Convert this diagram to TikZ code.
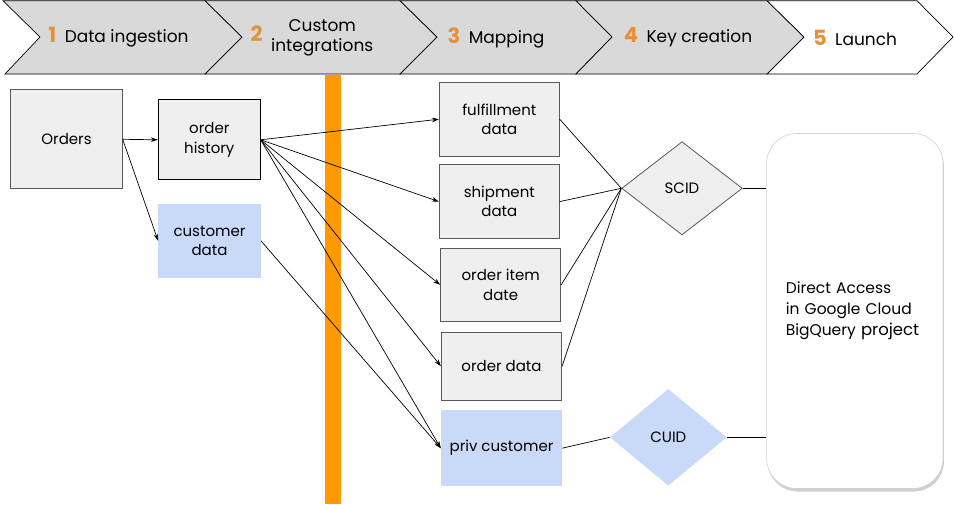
\documentclass[tikz,border=0pt]{standalone}
\usepackage{fontspec}
\setmainfont{Poppins}
\usetikzlibrary{shapes.geometric,arrows.meta,shadows}
\definecolor{boxgray}{HTML}{EFEFEF}
\definecolor{boxline}{HTML}{595959}
\definecolor{boxblue}{HTML}{C9DAF8}
\definecolor{chevgray}{HTML}{D9D9D9}
\definecolor{numorange}{HTML}{E69138}
\definecolor{barorange}{HTML}{FF9900}
\tikzset{
  chev/.style={draw=black, line width=0.7pt, line join=miter},
  chevlabel/.style={font=\fontsize{17}{20}\selectfont, inner sep=0pt, align=center},
  graybox/.style={rectangle, draw=boxline, fill=boxgray, line width=0.8pt, inner sep=0pt,
    align=center, font=\fontsize{15}{19.5}\selectfont},
  bluebox/.style={rectangle, fill=boxblue, inner sep=0pt, align=center,
    font=\fontsize{15}{19.5}\selectfont},
  keyshape/.style={diamond, inner sep=0pt, font=\fontsize{15}{19}\selectfont},
  conn/.style={draw=black, line width=0.7pt},
  arr/.style={conn, -{Stealth[length=7pt,width=4.5pt]}},
}
\newcommand{\num}[1]{{\fontsize{21}{22}\selectfont\color{numorange}\bfseries #1}\hspace{0.5em}}
\begin{document}
\begin{tikzpicture}[x=1pt,y=-1pt]
\useasboundingbox (0,0) rectangle (954,504);
% header chevrons
\filldraw[chev, fill=chevgray] (3,0.7) -- (205,0.7) -- (242,37) -- (205,74) -- (5,74) -- (40,37) -- cycle;
\filldraw[chev, fill=chevgray] (205,0.7) -- (400,0.7) -- (437,37) -- (400,74) -- (205,74) -- (242,37) -- cycle;
\filldraw[chev, fill=chevgray] (400,0.7) -- (576,0.7) -- (612,37) -- (576,74) -- (400,74) -- (437,37) -- cycle;
\filldraw[chev, fill=chevgray] (576,0.7) -- (767,0.7) -- (804,37) -- (767,74) -- (576,74) -- (612,37) -- cycle;
\filldraw[chev, fill=white] (767,0.7) -- (917,0.7) -- (953,37) -- (917,74) -- (767,74) -- (804,37) -- cycle;
\node[chevlabel] (h1) at (118.5,37.5) {\num{1}Data ingestion};
\node[chevlabel] (h2) at (312,37.5) {\num{2}\begin{tabular}{@{}c@{}}Custom\\[-0.5pt]integrations\end{tabular}};
\node[chevlabel] (h3) at (496,37.5) {\num{3}Mapping};
\node[chevlabel] (h4) at (688,37.5) {\num{4}Key creation};
\node[chevlabel] (h5) at (855,37.5) {\num{5}Launch};
% orange bar
\fill[barorange] (325,75) rectangle (341,504);
% boxes
\node[graybox, minimum width=111.5pt, minimum height=99pt] (orders) at (66.5,139.3) {Orders};
\node[graybox, draw=black, minimum width=102pt, minimum height=80pt] (ordhist) at (209.3,139.8) {order\\history};
\node[bluebox, minimum width=102.4pt, minimum height=74pt] (custdata) at (209.5,240.8) {customer\\data};
\node[graybox, minimum width=120pt, minimum height=74.3pt] (fulfil) at (499.3,119.2) {fulfillment\\data};
\node[graybox, minimum width=120pt, minimum height=73.7pt] (ship) at (499.3,201.6) {shipment\\data};
\node[graybox, minimum width=120pt, minimum height=73.6pt] (item) at (500.7,284.9) {order item\\date};
\node[graybox, minimum width=120.4pt, minimum height=68.3pt] (orddata) at (501.5,366.2) {order data};
\node[bluebox, minimum width=121pt, minimum height=75.7pt] (priv) at (501.5,448.2) {priv customer};
\node[keyshape, draw=boxline, fill=boxgray, line width=0.8pt, minimum width=120.6pt, minimum height=93.3pt] (scid) at (682,188.3) {SCID};
\node[keyshape, fill=boxblue, minimum width=116.7pt, minimum height=96.7pt] (cuid) at (668.3,437.3) {CUID};
\node[rectangle, rounded corners=30pt, draw=gray!35, fill=white, line width=0.6pt,
  drop shadow={shadow xshift=1pt, shadow yshift=-3pt, fill=gray!75},
  minimum width=176.3pt, minimum height=355pt, inner sep=0pt,
  text width=138pt, align=left, font=\fontsize{15.5}{21}\selectfont] (bq) at (854.8,311)
  {Direct Access\\in Google Cloud\\BigQuery {\fontsize{16.5}{21}\selectfont project}};
% connectors
\draw[arr] (orders.east) -- (ordhist.west);
\draw[arr] (orders.east) -- (custdata.west);
\draw[arr] (ordhist.east) -- (fulfil.west);
\draw[arr] (ordhist.east) -- (ship.west);
\draw[arr] (ordhist.east) -- (item.west);
\draw[arr] (ordhist.east) -- (orddata.west);
\draw[arr] (ordhist.east) -- (priv.west);
\draw[arr] (custdata.east) -- (priv.west);
\draw[conn] (fulfil.east) -- (scid.west);
\draw[conn] (ship.east) -- (scid.west);
\draw[conn] (item.east) -- (scid.west);
\draw[conn] (orddata.east) -- (scid.west);
\draw[conn] (scid.east) -- (scid.east -| bq.west);
\draw[conn] (priv.east) -- (cuid.west);
\draw[conn] (cuid.east) -- (cuid.east -| bq.west);
\end{tikzpicture}
\end{document}
